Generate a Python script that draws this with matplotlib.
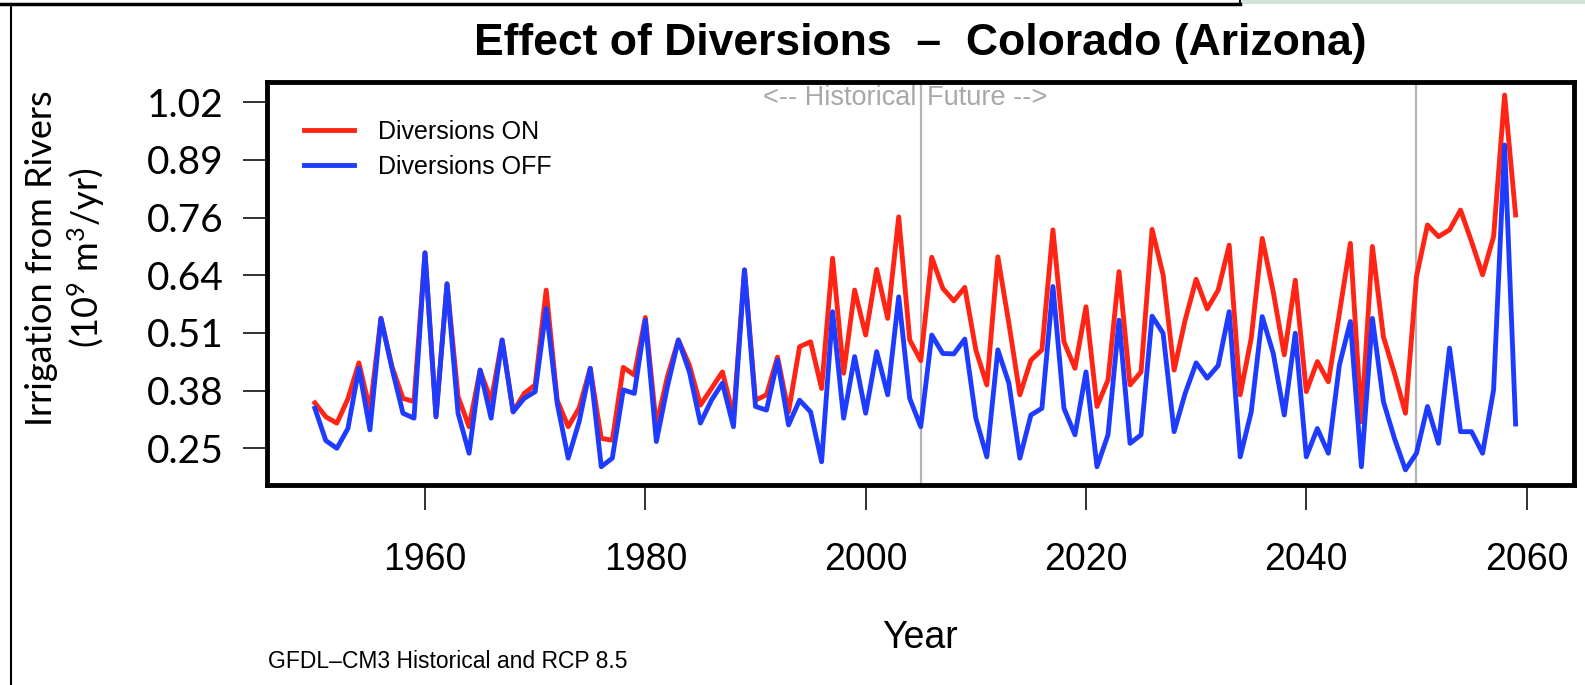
import numpy as np
import matplotlib
matplotlib.use("Agg")
import matplotlib.pyplot as plt
from matplotlib.lines import Line2D
from matplotlib.patches import Rectangle

# données (1950-2059)
years = np.arange(1950, 2060)

div_on = [0.351, 0.320, 0.306, 0.360, 0.440, 0.335, 0.539, 0.432, 0.361, 0.354,
          0.685, 0.320, 0.616, 0.365, 0.298, 0.424, 0.355, 0.491, 0.331, 0.372,
          0.391, 0.602, 0.357, 0.298, 0.340, 0.428, 0.272, 0.268, 0.430, 0.413,
          0.541, 0.300, 0.409, 0.491, 0.435, 0.346, 0.383, 0.420, 0.320, 0.647,
          0.357, 0.369, 0.453, 0.331, 0.476, 0.487, 0.383, 0.673, 0.417, 0.602,
          0.502, 0.648, 0.539, 0.765, 0.491, 0.445, 0.675, 0.606, 0.578, 0.608,
          0.469, 0.391, 0.676, 0.528, 0.369, 0.446, 0.469, 0.736, 0.487, 0.428,
          0.565, 0.343, 0.402, 0.643, 0.391, 0.420, 0.737, 0.636, 0.424, 0.535,
          0.626, 0.560, 0.602, 0.702, 0.369, 0.495, 0.717, 0.598, 0.458, 0.624,
          0.376, 0.443, 0.398, 0.550, 0.706, 0.309, 0.699, 0.498, 0.417, 0.328,
          0.632, 0.747, 0.721, 0.736, 0.780, 0.710, 0.636, 0.721, 1.036, 0.769]

div_off = [0.339, 0.267, 0.250, 0.294, 0.428, 0.291, 0.539, 0.428, 0.328, 0.317,
           0.685, 0.320, 0.616, 0.328, 0.239, 0.424, 0.317, 0.491, 0.331, 0.361,
           0.376, 0.561, 0.350, 0.228, 0.310, 0.428, 0.209, 0.228, 0.380, 0.372,
           0.535, 0.265, 0.387, 0.491, 0.420, 0.306, 0.357, 0.395, 0.298, 0.647,
           0.343, 0.335, 0.446, 0.302, 0.357, 0.331, 0.220, 0.554, 0.317, 0.454,
           0.328, 0.465, 0.369, 0.587, 0.361, 0.298, 0.502, 0.461, 0.460, 0.493,
           0.317, 0.231, 0.469, 0.395, 0.228, 0.324, 0.339, 0.610, 0.339, 0.280,
           0.420, 0.209, 0.280, 0.535, 0.261, 0.280, 0.544, 0.506, 0.287, 0.372,
           0.440, 0.406, 0.434, 0.554, 0.231, 0.331, 0.543, 0.461, 0.324, 0.506,
           0.231, 0.294, 0.239, 0.435, 0.532, 0.209, 0.539, 0.354, 0.272, 0.202,
           0.239, 0.343, 0.261, 0.473, 0.287, 0.287, 0.239, 0.380, 0.925, 0.304]

ytick_vals = [0.25, 0.3783, 0.5067, 0.635, 0.7633, 0.8917, 1.02]
ytick_labels = ["0.25", "0.38", "0.51", "0.64", "0.76", "0.89", "1.02"]
xtick_vals = [1960, 1980, 2000, 2020, 2040, 2060]
split_years = [2005, 2050]

sans = ["Liberation Sans", "DejaVu Sans"]
plt.rcParams["mathtext.fontset"] = "custom"
plt.rcParams["mathtext.rm"] = "Lato"
plt.rcParams["mathtext.it"] = "Lato:italic"

W, H = 1585, 685
fig = plt.figure(figsize=(W / 100, H / 100), dpi=100)
ax = fig.add_axes([266.7 / W, 1 - 485 / H, (1574 - 266.7) / W, (485 - 81.7) / H])

for yr in split_years:
    ax.axvline(yr, color="#b4b4b4", lw=1.6, zorder=1)

ax.plot(years, div_on, color="#ff2414", lw=3.5, label="Diversions ON", zorder=2)
ax.plot(years, div_off, color="#1e3cff", lw=3.5, label="Diversions OFF", zorder=3)

ax.set_xlim(1945.63, 2064.3)
ax.set_ylim(0.1683, 1.0657)

for s in ax.spines.values():
    s.set_linewidth(3.5)

ax.set_xticks(xtick_vals)
ax.set_xticklabels([str(v) for v in xtick_vals], family=sans, fontsize=27)
ax.set_yticks(ytick_vals)
ax.set_yticklabels(ytick_labels, family="Lato", fontsize=28)
ax.tick_params(axis="x", length=18, width=1.3, pad=23, color="#222222")
ax.tick_params(axis="y", length=17, width=1.3, pad=14, color="#222222")

leg = ax.legend(loc="upper left", bbox_to_anchor=(0.0285, 0.905), frameon=False,
                prop={"family": "Liberation Sans", "size": 18},
                handlelength=2.0, handletextpad=0.95, labelspacing=0.42,
                borderpad=0, borderaxespad=0)

xf = ax.get_xaxis_transform()
ax.text(2005 - 0.35, 0.9596, "<-- Historical", transform=xf, ha="right", va="center",
        color="#a8a8a8", family=sans, fontsize=19.5)
ax.text(2005 + 0.6, 0.9596, "Future -->", transform=xf, ha="left", va="center",
        color="#a8a8a8", family=sans, fontsize=19.5)

fig.text(920 / W, 1 - 44 / H, "Effect of Diversions  \u2013  Colorado (Arizona)",
         ha="center", va="center", family=sans, fontweight="bold", fontsize=32)
fig.text(920 / W, 1 - 638 / H, "Year", ha="center", va="center", family=sans, fontsize=27)
fig.text(268 / W, 1 - 662 / H, "GFDL\u2013CM3 Historical and RCP 8.5", ha="left", va="center",
         family=sans, fontsize=16.5)
fig.text(66 / W, 1 - 258 / H, "Irrigation from Rivers\n(10$^9$ m$^3$/yr)", rotation=90,
         ha="center", va="center", multialignment="center", family="Lato", fontsize=26,
         linespacing=1.2)

# cadre de la capture d'écran
fig.add_artist(Line2D([0, 1240 / W], [1 - 4 / H, 1 - 4 / H], color="black", lw=2.5))
fig.add_artist(Line2D([1240 / W, 1240 / W], [1 - 4 / H, 1], color="black", lw=1.5))
fig.add_artist(Rectangle((1242 / W, 1 - 4 / H), (W - 1242) / W, 4 / H,
                         transform=fig.transFigure, color="#cfe3d6", lw=0))
fig.add_artist(Line2D([11 / W, 11 / W], [0, 1 - 4 / H], color="black", lw=1.5))

fig.savefig("out.png", dpi=100)
